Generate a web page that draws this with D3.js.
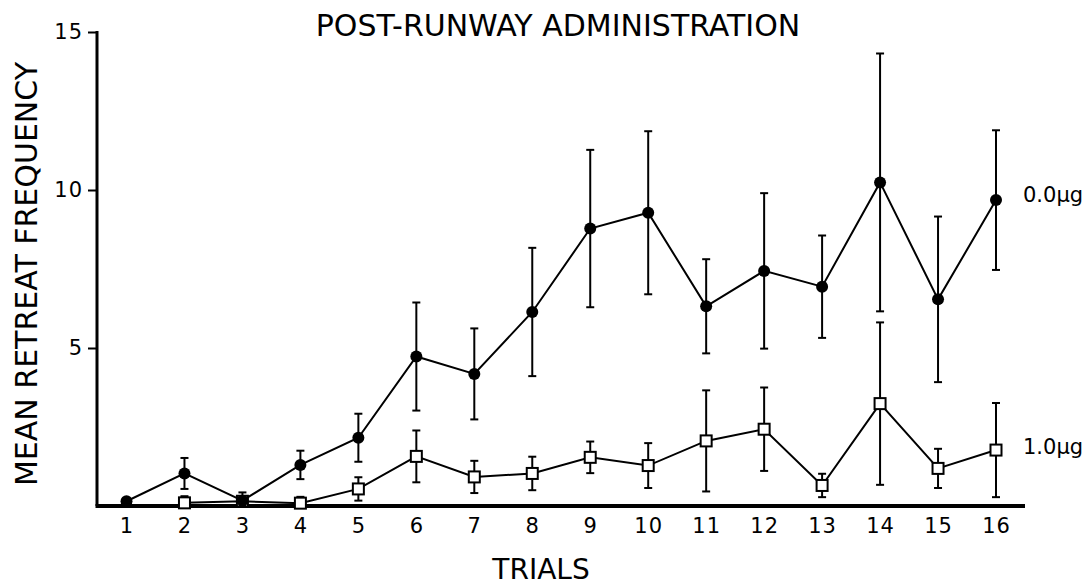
<!DOCTYPE html>
<html><head><meta charset="utf-8">
<script src="https://cdn.jsdelivr.net/npm/d3@7"></script>
<style>body{margin:0;background:#fff}svg{display:block}text{font-family:"DejaVu Sans",sans-serif;fill:#000}</style>
</head><body><svg id="c" width="1091" height="587"></svg>
<script>
const trials = [1,2,3,4,5,6,7,8,9,10,11,12,13,14,15,16];
const yTicks = [5,10,15];
const ctrlMean = [0.15,1.03,0.17,1.30,2.16,4.73,4.18,6.14,8.78,9.28,6.32,7.44,6.94,10.24,6.54,9.68];
const ctrlSem  = [0,0.49,0.26,0.45,0.76,1.71,1.44,2.03,2.49,2.58,1.49,2.46,1.62,4.08,2.62,2.21];
const doseTrials = [2,3,4,5,6,7,8,9,10,11,12,13,14,15,16];
const doseMean = [0.10,0.15,0.09,0.54,1.57,0.92,1.03,1.54,1.28,2.06,2.43,0.65,3.24,1.19,1.77];
const doseSem  = [0.21,0,0.20,0.37,0.82,0.51,0.53,0.50,0.71,1.60,1.32,0.37,2.57,0.62,1.49];
const seriesLabels = ["0.0\u00b5g","1.0\u00b5g"];

const svg = d3.select("#c");
const x = d3.scaleLinear().domain([1,16]).range([126.5,996]);
const y = d3.scaleLinear().domain([0,15]).range([506,32]);

// axes
const yAx = svg.append("g").attr("transform","translate(97,0)")
  .call(d3.axisLeft(y).tickValues(yTicks).tickSize(9).tickSizeOuter(0).tickPadding(5));
yAx.select(".domain").remove();
yAx.selectAll(".tick line").attr("stroke","#000").attr("stroke-width",2);
yAx.selectAll(".tick text").attr("font-size",21).attr("font-family","DejaVu Sans").attr("letter-spacing","1px");
svg.append("line").attr("x1",97).attr("x2",97).attr("y1",y(15)-1).attr("y2",y(0)).attr("stroke","#000").attr("stroke-width",3);

const xAx = svg.append("g").attr("transform","translate(0,506)")
  .call(d3.axisBottom(x).tickValues(trials).tickFormat(d3.format("d")).tickSize(0).tickPadding(12));
xAx.select(".domain").remove();
xAx.selectAll(".tick text").attr("font-size",21).attr("font-family","DejaVu Sans").attr("letter-spacing","1px");
svg.append("line").attr("x1",95.5).attr("x2",1025).attr("y1",506).attr("y2",506).attr("stroke","#000").attr("stroke-width",4);

function drawSeries(xs, means, sems, shape){
  const g = svg.append("g");
  const data = xs.map((t,i)=>({t, m:means[i], s:sems[i]}));
  const eb = g.selectAll("g.eb").data(data.filter(d=>d.s>0)).join("g");
  eb.append("line").attr("x1",d=>x(d.t)).attr("x2",d=>x(d.t)).attr("y1",d=>y(d.m+d.s)).attr("y2",d=>y(Math.max(0,d.m-d.s))).attr("stroke","#000").attr("stroke-width",2);
  eb.append("line").attr("x1",d=>x(d.t)-4).attr("x2",d=>x(d.t)+4).attr("y1",d=>y(d.m+d.s)).attr("y2",d=>y(d.m+d.s)).attr("stroke","#000").attr("stroke-width",2);
  eb.append("line").attr("x1",d=>x(d.t)-4).attr("x2",d=>x(d.t)+4).attr("y1",d=>y(Math.max(0,d.m-d.s))).attr("y2",d=>y(Math.max(0,d.m-d.s))).attr("stroke","#000").attr("stroke-width",2);
  g.append("path").datum(data).attr("fill","none").attr("stroke","#000").attr("stroke-width",2)
    .attr("d", d3.line().x(d=>x(d.t)).y(d=>y(d.m)));
  if(shape==="circle"){
    g.selectAll("circle").data(data).join("circle").attr("cx",d=>x(d.t)).attr("cy",d=>y(d.m)).attr("r",6).attr("fill","#000");
  } else {
    g.selectAll("rect").data(data).join("rect").attr("x",d=>x(d.t)-5.5).attr("y",d=>y(d.m)-5.5).attr("width",11).attr("height",11).attr("fill","#fff").attr("stroke","#000").attr("stroke-width",2);
  }
}
drawSeries(doseTrials, doseMean, doseSem, "square");
drawSeries(trials, ctrlMean, ctrlSem, "circle");

// series labels
svg.append("text").attr("x",1023).attr("y",195).attr("dy","0.35em").attr("font-size",21).text(seriesLabels[0]);
svg.append("text").attr("x",1023).attr("y",447).attr("dy","0.35em").attr("font-size",21).text(seriesLabels[1]);

// titles
svg.append("text").attr("x",558).attr("y",36).attr("text-anchor","middle").attr("font-size",30).text("POST-RUNWAY ADMINISTRATION");
svg.append("text").attr("x",541).attr("y",579).attr("text-anchor","middle").attr("font-size",28).text("TRIALS");
svg.append("text").attr("transform","translate(37,274) rotate(-90)").attr("text-anchor","middle").attr("font-size",30).text("MEAN RETREAT FREQUENCY");
</script></body></html>
